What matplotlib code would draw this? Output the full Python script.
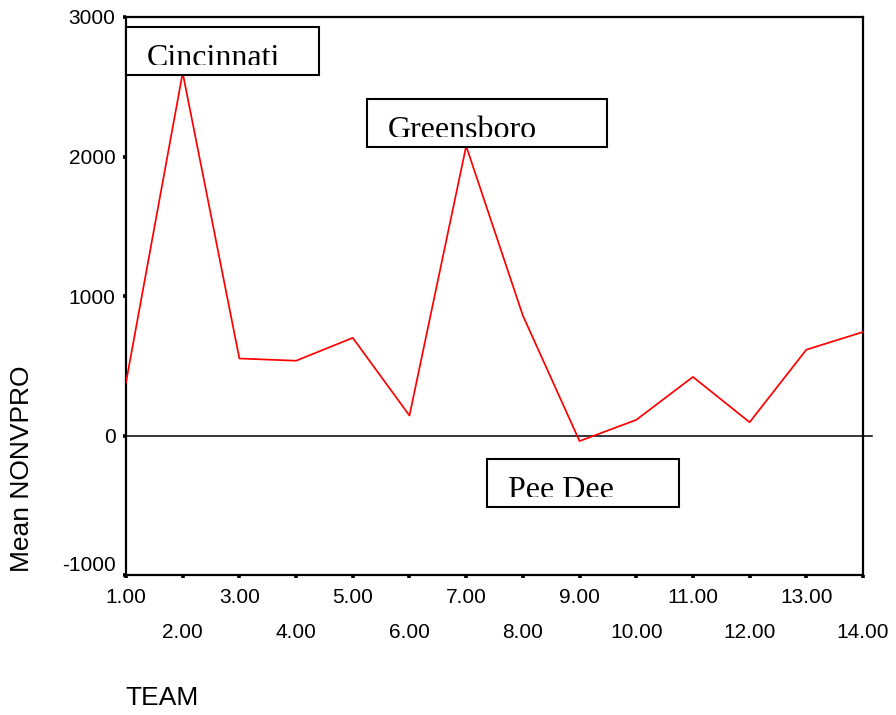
import matplotlib
matplotlib.use("Agg")
import matplotlib.pyplot as plt
from matplotlib.patches import Rectangle

teams = list(range(1, 15))
mean_nonvpro = [380, 2600, 552, 536, 700, 143, 2075, 860, -40, 112, 420, 95, 615, 742]
odd_ticks = [1, 3, 5, 7, 9, 11, 13]
even_ticks = [2, 4, 6, 8, 10, 12, 14]
y_ticks = [-1000, 0, 1000, 2000, 3000]
annotations = ["Cincinnati", "Greensboro", "Pee Dee"]

W, H = 896, 715
fig = plt.figure(figsize=(W / 100, H / 100), dpi=100)
L, R, T, B = 126, 863, 17, 575
ax = fig.add_axes([L / W, 1 - B / H, (R - L) / W, (B - T) / H])

ax.plot(teams, mean_nonvpro, color="#ff0000", lw=1.25, zorder=3)
ax.plot([0, 1.012], [0, 0], transform=ax.get_yaxis_transform(), color="black",
        lw=1.1, clip_on=False, zorder=2)

ax.set_xlim(1, 14)
ax.set_ylim(-1000, 3000)
ax.set_yticks(y_ticks)
ax.set_yticklabels([str(v) for v in y_ticks])
ax.set_xticks(odd_ticks)
ax.set_xticklabels([f"{v:.2f}" for v in odd_ticks])
ax.set_xticks(even_ticks, minor=True)
ax.set_xticklabels([f"{v:.2f}" for v in even_ticks], minor=True)

for s in ax.spines.values():
    s.set_linewidth(1.6)
ax.tick_params(axis="both", which="both", direction="out", length=2.5, width=2.6,
               labelsize=15, colors="black")
ax.tick_params(axis="x", which="major", pad=7)
ax.tick_params(axis="x", which="minor", pad=32)
ax.tick_params(axis="y", pad=5)
for lab in ax.get_xticklabels() + ax.get_xticklabels(minor=True) + ax.get_yticklabels():
    lab.set_fontfamily("Liberation Sans")
ax.get_yticklabels()[0].set_verticalalignment("bottom")

fig.text(22 / W, 1 - 469 / H, "Mean NONVPRO", rotation=90, ha="center", va="center",
         fontsize=19, family="Liberation Sans")
fig.text(125 / W, 1 - 698 / H, "TEAM", ha="left", va="center",
         fontsize=19, family="Liberation Sans")

# annotation boxes: (x0, y0, x1, y1) in pixels
boxes = [(126, 27, 319, 75), (367, 99, 607, 147), (487, 459, 679, 507)]
for label, (x0, y0, x1, y1) in zip(annotations, boxes):
    rect = Rectangle((x0 / W, 1 - y1 / H), (x1 - x0) / W, (y1 - y0) / H,
                     transform=fig.transFigure, facecolor="white", edgecolor="black",
                     lw=1.5, zorder=5)
    fig.add_artist(rect)
    cut = y1 - 10
    t = fig.text((x0 + 21) / W, 1 - (cut + 1) / H, label, ha="left", va="baseline",
                 fontsize=23, family="Liberation Serif", zorder=6)
    clip = Rectangle((x0 / W, 1 - cut / H), (x1 - x0) / W, (cut - y0) / H,
                     transform=fig.transFigure, visible=False)
    fig.add_artist(clip)
    t.set_clip_path(clip)

fig.savefig("out.png", dpi=100)
